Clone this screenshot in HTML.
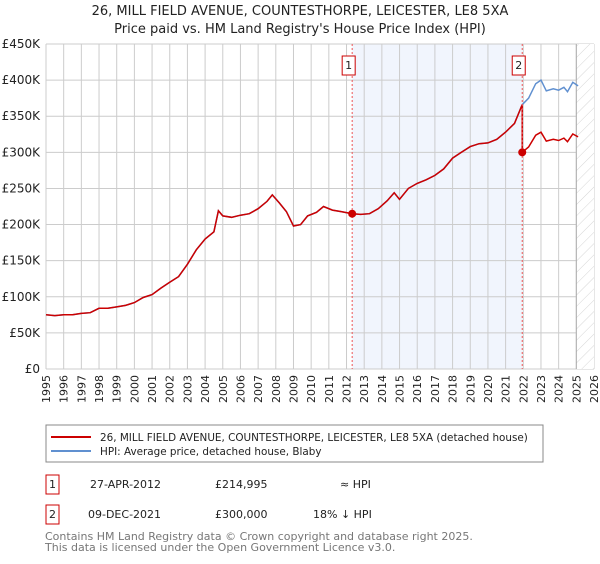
<!DOCTYPE html>
<html><head><meta charset="utf-8"><style>
body{margin:0;background:#fff;font-family:"DejaVu Sans","Liberation Sans",sans-serif;}
svg text{font-family:"DejaVu Sans","Liberation Sans",sans-serif;}
</style></head><body>
<svg id="chart" width="600" height="560" xmlns="http://www.w3.org/2000/svg">
<defs><pattern id="hatch" width="8" height="8" patternUnits="userSpaceOnUse" patternTransform="rotate(45)"><line x1="0" y1="0" x2="0" y2="8" stroke="#ccc" stroke-width="0.8"/></pattern></defs>
<text x="300" y="15" text-anchor="middle" font-size="13" fill="#222">26, MILL FIELD AVENUE, COUNTESTHORPE, LEICESTER, LE8 5XA</text>
<text x="300" y="33" text-anchor="middle" font-size="13" fill="#222">Price paid vs. HM Land Registry's House Price Index (HPI)</text>
<g id="plot"></g>
<g>
<rect x="46" y="425" width="497" height="37" fill="#fff" stroke="#888"/>
<line x1="51" y1="437" x2="91" y2="437" stroke="#cc0000" stroke-width="2"/>
<text x="100" y="441" font-size="10.4" fill="#222">26, MILL FIELD AVENUE, COUNTESTHORPE, LEICESTER, LE8 5XA (detached house)</text>
<line x1="51" y1="451" x2="91" y2="451" stroke="#6090d0" stroke-width="2"/>
<text x="100" y="455" font-size="10.4" fill="#222">HPI: Average price, detached house, Blaby</text>
</g>
<g font-size="11" fill="#222">
<rect x="46" y="475" width="13" height="19" fill="#fff" stroke="#cc0000"/>
<text x="52.5" y="488" text-anchor="middle">1</text>
<text x="90" y="488">27-APR-2012</text>
<text x="215" y="488">£214,995</text>
<text x="340" y="488">≈ HPI</text>
<rect x="46" y="505" width="13" height="19" fill="#fff" stroke="#cc0000"/>
<text x="52.5" y="518" text-anchor="middle">2</text>
<text x="88" y="518">09-DEC-2021</text>
<text x="215" y="518">£300,000</text>
<text x="313" y="518">18% ↓ HPI</text>
</g>
<text x="45" y="540" font-size="11" fill="#777">Contains HM Land Registry data © Crown copyright and database right 2025.</text>
<text x="45" y="551" font-size="11" fill="#777">This data is licensed under the Open Government Licence v3.0.</text>
</svg>
<script>
const yearTicks=[1995,1996,1997,1998,1999,2000,2001,2002,2003,2004,2005,2006,2007,2008,2009,2010,2011,2012,2013,2014,2015,2016,2017,2018,2019,2020,2021,2022,2023,2024,2025,2026];
const priceTicks=[0,50000,100000,150000,200000,250000,300000,350000,400000,450000];
const priceTickLabels=["£0","£50K","£100K","£150K","£200K","£250K","£300K","£350K","£400K","£450K"];
const hpiDates=[1995,1995.5,1996,1996.5,1997,1997.5,1998,1998.5,1999,1999.5,2000,2000.5,2001,2001.5,2002,2002.5,2003,2003.5,2004,2004.5,2004.75,2005,2005.5,2006,2006.5,2007,2007.5,2007.8,2008.2,2008.6,2009,2009.4,2009.8,2010.3,2010.7,2011.2,2011.7,2012.32,2012.8,2013.3,2013.8,2014.3,2014.7,2015,2015.5,2016,2016.5,2017,2017.5,2018,2018.5,2019,2019.5,2020,2020.5,2021,2021.5,2021.94,2022.3,2022.7,2023,2023.3,2023.7,2024,2024.3,2024.5,2024.8,2025.1];
const hpiValues=[75000,74000,75000,75000,77000,78000,84000,84000,86000,88000,92000,99000,103000,112000,120000,128000,145000,165000,180000,190000,219000,212000,210000,213000,215000,222000,232000,241000,230000,218000,198000,200000,212000,217000,225000,220000,218000,215000,214000,215000,222000,233000,244000,235000,250000,257000,262000,268000,277000,292000,300000,308000,312000,313000,318000,328000,340000,366000,375000,395000,400000,385000,388000,386000,390000,384000,397000,392000];
const saleDates=[2012.32,2021.94];
const salePrices=[214995,300000];
const saleLabels=["1","2"];

const X0=46,X1=594,Y0=369,Y1=44;
const xs=d=>X0+(d-1995)/(2026-1995)*(X1-X0);
const ys=v=>Y0-v/450000*(Y0-Y1);
const NS="http://www.w3.org/2000/svg";
const g=document.getElementById('plot');
function mk(t,a){const e=document.createElementNS(NS,t);for(const k in a)e.setAttribute(k,a[k]);g.appendChild(e);return e;}

let e=mk('rect',{x:xs(saleDates[0]),y:Y1,width:xs(saleDates[1])-xs(saleDates[0]),height:Y0-Y1,fill:'#eef3fd',opacity:0.8});


yearTicks.forEach(yr=>{
  const x=xs(yr);
  let l=mk('line',{x1:x,y1:Y1,x2:x,y2:Y0,stroke:'#ccc','stroke-width':1});
  
  
  let t=mk('text',{x:x+4,y:Y0+6,'font-size':11,fill:'#222','text-anchor':'end',transform:`rotate(-90 ${x+4} ${Y0+6})`});
  t.textContent=yr;
  
  
});
priceTicks.forEach((v,i)=>{
  const y=ys(v);
  let l=mk('line',{x1:X0,y1:y,x2:X1,y2:y,stroke:'#ccc','stroke-width':1});
  
  
  let t=mk('text',{x:40,y:y+4,'font-size':12,fill:'#222','text-anchor':'end'});
  t.textContent=priceTickLabels[i];
  
  
});
e=mk('rect',{x:xs(2025.0),y:Y1,width:X1-xs(2025.0),height:Y0-Y1,fill:'#fff'});


e=mk('rect',{x:xs(2025.0),y:Y1,width:X1-xs(2025.0),height:Y0-Y1,fill:'url(#hatch)'});


e=mk('line',{x1:xs(2025.0),y1:Y1,x2:xs(2025.0),y2:Y0,stroke:'#aaa','stroke-width':1});


let pb=hpiDates.map((d,i)=>`${xs(d).toFixed(1)},${ys(hpiValues[i]).toFixed(1)}`).join(' ');
e=mk('polyline',{points:pb,fill:'none',stroke:'#6090d0','stroke-width':1.5});


const i2=hpiDates.indexOf(saleDates[1]);
const ratio2=salePrices[1]/hpiValues[i2];
let pts=[];
hpiDates.forEach((d,i)=>{
  if(i<=i2) pts.push([d,hpiValues[i]]);
  if(i===i2) pts.push([d,salePrices[1]]);
  if(i>i2) pts.push([d,hpiValues[i]*ratio2]);
});
e=mk('polyline',{points:pts.map(p=>`${xs(p[0]).toFixed(1)},${ys(p[1]).toFixed(1)}`).join(' '),fill:'none',stroke:'#cc0000','stroke-width':1.5});


saleDates.forEach((d,i)=>{
  const x=xs(d);
  let l=mk('line',{x1:x,y1:Y1,x2:x,y2:Y0,stroke:'#ee5555','stroke-width':1,'stroke-dasharray':'2,2'});
  
  
  let c=mk('circle',{cx:x,cy:ys(salePrices[i]),r:4,fill:'#cc0000'});
  
  
  let r=mk('rect',{x:x-10,y:56,width:13,height:19,fill:'#fff',stroke:'#cc0000'});
  
  
  let t=mk('text',{x:x-3.5,y:69,'font-size':11,fill:'#222','text-anchor':'middle'});
  t.textContent=saleLabels[i];
  
  
});
</script>
</body></html>
